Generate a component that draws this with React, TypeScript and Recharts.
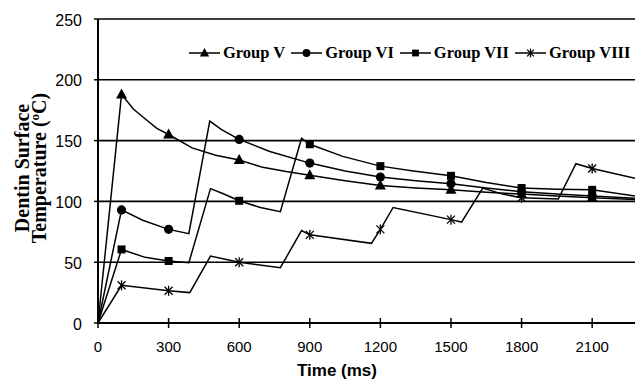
import React from 'react'
import { LineChart, Line, XAxis, YAxis, CartesianGrid } from 'recharts'

// Readings taken off the figure (time in ms, temperature in °C)
const timeTicks = [0, 300, 600, 900, 1200, 1500, 1800, 2100]
const tempTicks = [0, 50, 100, 150, 200, 250]
const markerTimes = [100, 300, 600, 900, 1200, 1500, 1800, 2100]

const groupVTimes = [0, 100, 150, 200, 250, 300, 400, 500, 600, 700, 800, 900, 1050, 1200, 1350, 1500, 1650, 1800, 1950, 2100, 2282]
const groupVTemps = [0, 188, 176, 168, 160, 155, 144, 138, 134, 128, 124.5, 121.5, 117, 113, 111, 109.5, 107.5, 106, 104.5, 103, 101.5]

const groupVITimes = [0, 100, 190, 300, 386, 475, 525, 600, 730, 900, 1050, 1200, 1350, 1500, 1650, 1800, 1950, 2100, 2282]
const groupVITemps = [0, 93, 84.5, 77, 73.5, 166, 159, 151, 141, 131.5, 125, 120, 117, 114.5, 111, 108, 106, 104.5, 102.5]

const groupVIITimes = [0, 100, 200, 300, 386, 478, 530, 600, 690, 775, 865, 900, 1040, 1200, 1340, 1500, 1650, 1800, 1950, 2100, 2282]
const groupVIITemps = [0, 60.5, 54, 51, 49.5, 110.5, 106.5, 100.5, 95, 91.5, 152, 147, 137, 129, 125, 121, 115.5, 111, 110, 109.5, 104.5]

const groupVIIITimes = [0, 100, 300, 390, 478, 600, 775, 865, 900, 1162, 1200, 1254, 1500, 1545, 1635, 1720, 1800, 1956, 2031, 2100, 2282]
const groupVIIITemps = [0, 31, 26.5, 25, 55, 50, 45.5, 76, 72.5, 65.5, 77, 95, 85, 83, 111, 106, 103, 102, 131, 127, 119]

type Pt = { t: number; v: number }
const toPoints = (ts: number[], vs: number[]): Pt[] => ts.map((t, i) => ({ t, v: vs[i] }))

type Shape = 'triangle' | 'circle' | 'square' | 'star'

function Marker({ shape, cx, cy, s = 1 }: { shape: Shape; cx: number; cy: number; s?: number }) {
  if (shape === 'triangle')
    return <polygon points={`${cx},${cy - 6 * s} ${cx - 5.5 * s},${cy + 4 * s} ${cx + 5.5 * s},${cy + 4 * s}`} fill="#000" />
  if (shape === 'circle') return <circle cx={cx} cy={cy} r={4.6 * s} fill="#000" />
  if (shape === 'square') return <rect x={cx - 4 * s} y={cy - 4 * s} width={8 * s} height={8 * s} fill="#000" />
  const d = 4 * s
  return (
    <g stroke="#000" strokeWidth={1.3}>
      <line x1={cx - d} y1={cy - d} x2={cx + d} y2={cy + d} />
      <line x1={cx - d} y1={cy + d} x2={cx + d} y2={cy - d} />
      <line x1={cx} y1={cy - d - 1} x2={cx} y2={cy + d + 1} />
    </g>
  )
}

const makeDot = (shape: Shape) => (props: any) => {
  const { cx, cy, payload, index } = props
  if (!markerTimes.includes(payload.t)) return <g key={index} />
  return (
    <g key={index}>
      <Marker shape={shape} cx={cx} cy={cy} />
    </g>
  )
}

const series: { name: string; shape: Shape; data: Pt[] }[] = [
  { name: 'Group V', shape: 'triangle', data: toPoints(groupVTimes, groupVTemps) },
  { name: 'Group VI', shape: 'circle', data: toPoints(groupVITimes, groupVITemps) },
  { name: 'Group VII', shape: 'square', data: toPoints(groupVIITimes, groupVIITemps) },
  { name: 'Group VIII', shape: 'star', data: toPoints(groupVIIITimes, groupVIIITemps) },
]

const serif = '"Liberation Serif", "Times New Roman", serif'
const sans = '"Liberation Sans", Arial, sans-serif'

function LegendBox() {
  return (
    <div
      style={{
        position: 'absolute',
        left: 189,
        top: 43,
        display: 'flex',
        alignItems: 'center',
        whiteSpace: 'nowrap',
        fontFamily: serif,
        fontWeight: 'bold',
        fontSize: 16.5,
        color: '#000',
      }}
    >
      {series.map(s => (
        <div key={s.name} style={{ display: 'flex', alignItems: 'center', marginRight: 6 }}>
          <svg width={31} height={14} style={{ marginRight: 3 }}>
            <line x1={0} x2={31} y1={7} y2={7} stroke="#000" strokeWidth={1.5} />
            <Marker shape={s.shape} cx={15.5} cy={7} s={0.85} />
          </svg>
          <span>{s.name}</span>
        </div>
      ))}
    </div>
  )
}

function XTick(props: any) {
  const { x, y, payload } = props
  return (
    <g>
      <line x1={x} x2={x} y1={y - 5} y2={y + 5} stroke="#000" strokeWidth={1.5} />
      <text x={x} y={y + 29} textAnchor="middle" fontFamily={sans} fontSize={15} fill="#000">
        {payload.value}
      </text>
    </g>
  )
}

function YTitle() {
  return (
    <g fontFamily={serif} fontWeight="bold" fontSize={20} fill="#000">
      <text x={22} y={168} transform="rotate(-90 22 168)" textAnchor="middle" dominantBaseline="central">
        Dentin Surface
      </text>
      <text x={39} y={168} transform="rotate(-90 39 168)" textAnchor="middle" dominantBaseline="central">
        Temperature (<tspan fontSize={13} dy={-5}>o</tspan><tspan dy={5}>C)</tspan>
      </text>
    </g>
  )
}

export default function App() {
  return (
    <div style={{ position: 'absolute', left: 0, top: 0, width: 635, height: 379, background: '#fff' }}>
      <LineChart width={635} height={379} data={series[0].data} margin={{ top: 19, right: 0, bottom: 0, left: 0 }}>
        <CartesianGrid vertical={false} stroke="#000" strokeWidth={1.6} />
        <XAxis
          type="number"
          dataKey="t"
          domain={[0, 2282]}
          ticks={timeTicks}
          interval={0}
          height={56}
          tickSize={0}
          tickMargin={0}
          tickLine={false}
          tick={<XTick />}
          axisLine={{ stroke: '#000', strokeWidth: 2 }}
          allowDataOverflow
          label={{
            content: () => (
              <text x={337} y={376} textAnchor="middle" fontFamily={sans} fontWeight="bold" fontSize={17} fill="#000">
                Time (ms)
              </text>
            ),
          }}
        />
        <YAxis
          type="number"
          domain={[0, 250]}
          ticks={tempTicks}
          interval={0}
          width={98}
          tickSize={4}
          tickMargin={12}
          tickLine={{ stroke: '#000', strokeWidth: 1.5 }}
          axisLine={{ stroke: '#000', strokeWidth: 2 }}
          tick={{ fill: '#000', fontFamily: sans, fontSize: 16, dy: 1 }}
          label={{ content: () => <YTitle /> }}
        />
        {series.map(s => (
          <Line
            key={s.name}
            data={s.data}
            dataKey="v"
            name={s.name}
            type="linear"
            stroke="#000"
            strokeWidth={1.5}
            dot={makeDot(s.shape)}
            activeDot={false}
            isAnimationActive={false}
          />
        ))}
      </LineChart>
      <LegendBox />
    </div>
  )
}
